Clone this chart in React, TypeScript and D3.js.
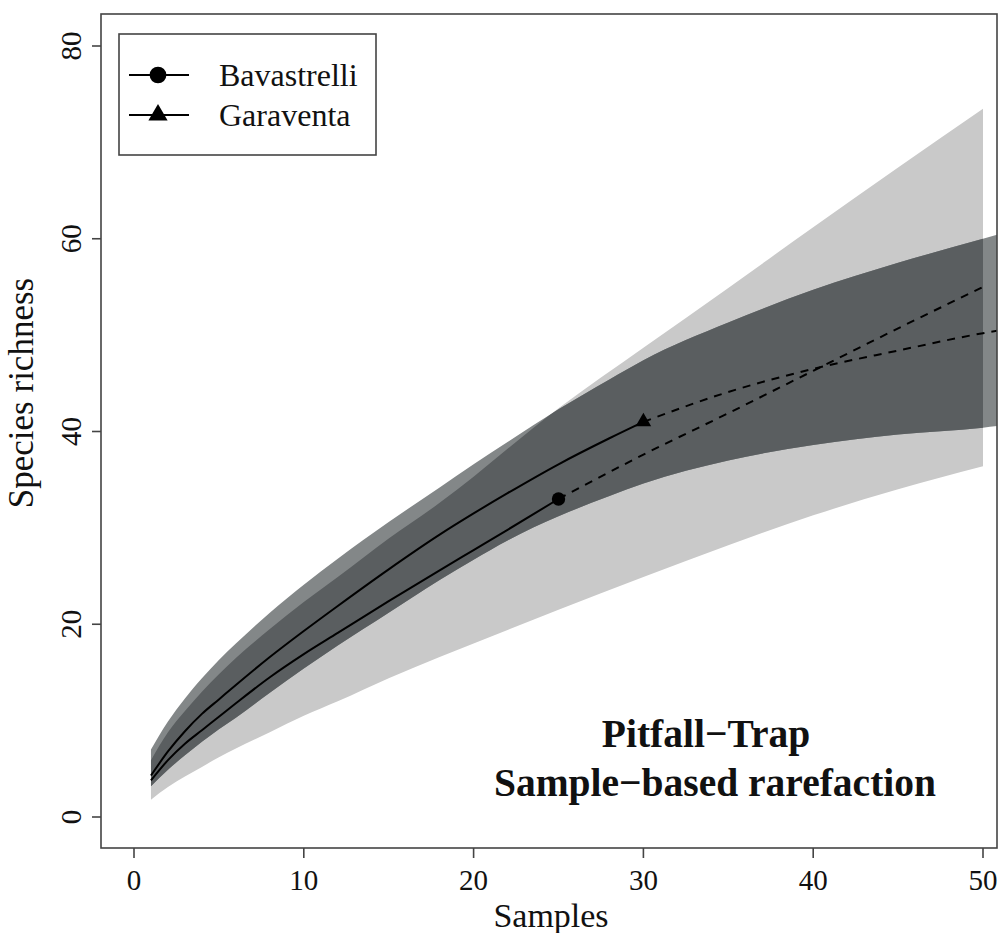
import React from 'react'
import * as d3 from 'd3'

// Bavastrelli: observed curve, extrapolation and confidence band
const bavSamples = [1, 2, 3, 4, 5, 6, 8, 10, 12, 15, 18, 20, 22, 25]
const bavRichness = [3.8, 5.9, 7.6, 9.0, 10.4, 11.8, 14.5, 16.9, 19.1, 22.4, 25.6, 27.7, 29.8, 33.0]
const bavExtSamples = [25, 30, 35, 40, 45, 50]
const bavExtRichness = [33.0, 37.6, 41.9, 46.3, 50.7, 55.0]
const bavBandSamples = [1, 2, 3, 4, 5, 6, 8, 10, 12, 15, 18, 20, 22, 25, 30, 35, 40, 45, 50]
const bavBandUpper = [5.9, 8.8, 11.0, 13.0, 14.8, 16.5, 19.5, 22.3, 24.9, 28.9, 32.6, 35.3, 38.2, 42.4, 48.7, 54.9, 61.2, 67.4, 73.5]
const bavBandLower = [1.8, 3.1, 4.2, 5.2, 6.2, 7.1, 8.8, 10.5, 12.0, 14.4, 16.6, 18.0, 19.4, 21.5, 24.9, 28.2, 31.3, 34.0, 36.4]

// Garaventa
const garSamples = [1, 2, 3, 4, 5, 6, 8, 10, 12, 15, 18, 20, 22, 25, 28, 30]
const garRichness = [4.3, 6.8, 8.9, 10.7, 12.2, 13.7, 16.6, 19.3, 21.9, 25.7, 29.3, 31.5, 33.6, 36.6, 39.3, 41.0]
const garExtSamples = [30, 35, 40, 45, 50, 51]
const garExtRichness = [41.0, 44.1, 46.5, 48.4, 50.2, 50.5]
const garBandSamples = [1, 2, 3, 4, 5, 6, 8, 10, 12, 15, 18, 20, 22, 25, 28, 30, 35, 40, 45, 50, 51]
const garBandUpper = [7.0, 9.9, 12.3, 14.4, 16.3, 18.0, 21.2, 24.1, 26.8, 30.6, 34.2, 36.6, 38.9, 42.3, 45.4, 47.4, 51.3, 54.7, 57.5, 60.0, 60.5]
const garBandLower = [3.2, 4.9, 6.4, 7.8, 9.1, 10.3, 12.9, 15.4, 17.8, 21.2, 24.6, 26.7, 28.7, 31.2, 33.3, 34.6, 37.0, 38.6, 39.7, 40.4, 40.6]

const xTicks = [0, 10, 20, 30, 40, 50]
const yTicks = [0, 20, 40, 60, 80]
const legendLabels = ['Bavastrelli', 'Garaventa']
const titleLines = ['Pitfall\u2212Trap', 'Sample\u2212based rarefaction']

const W = 999
const H = 933
const box = { left: 101, top: 14, right: 997, bottom: 848 }
const serif = '"Liberation Serif", "Times New Roman", serif'

const x = d3.scaleLinear().domain([0, 50]).range([134, 983])
const y = d3.scaleLinear().domain([0, 80]).range([817, 46])

const zip = (xs: number[], ys: number[]) => xs.map((v, i) => [v, ys[i]] as [number, number])
const band = (xs: number[], lo: number[], hi: number[]) => xs.map((v, i) => ({ s: v, lo: lo[i], hi: hi[i] }))

const line = d3.line<[number, number]>()
  .x(d => x(d[0]))
  .y(d => y(d[1]))
  .curve(d3.curveMonotoneX)

const area = d3.area<{ s: number, lo: number, hi: number }>()
  .x(d => x(d.s))
  .y0(d => y(d.lo))
  .y1(d => y(d.hi))
  .curve(d3.curveMonotoneX)

const bavArea = area(band(bavBandSamples, bavBandLower, bavBandUpper)) || ''
const garArea = area(band(garBandSamples, garBandLower, garBandUpper)) || ''

const circle = d3.symbol().type(d3.symbolCircle)
const triangle = d3.symbol().type(d3.symbolTriangle)

export default function App() {
  const bavEnd = bavSamples.length - 1
  const garEnd = garSamples.length - 1
  return (
    <svg width={W} height={H} style={{ position: 'absolute', left: 0, top: 0, background: '#fff' }}
      fontFamily={serif}>
      <defs>
        <clipPath id="plotClip">
          <rect x={box.left} y={box.top} width={box.right - box.left} height={box.bottom - box.top} />
        </clipPath>
        <clipPath id="bavClip">
          <path d={bavArea} />
        </clipPath>
      </defs>

      <g clipPath="url(#plotClip)">
        <path d={bavArea} fill="#c9c9c9" />
        <path d={garArea} fill="#838788" />
        <g clipPath="url(#bavClip)">
          <path d={garArea} fill="#5a5e60" />
        </g>

        <path d={line(zip(bavSamples, bavRichness)) || ''} fill="none" stroke="#000" strokeWidth={2} />
        <path d={line(zip(garSamples, garRichness)) || ''} fill="none" stroke="#000" strokeWidth={2} />
        <path d={line(zip(bavExtSamples, bavExtRichness)) || ''} fill="none" stroke="#000" strokeWidth={2}
          strokeDasharray="8,7" />
        <path d={line(zip(garExtSamples, garExtRichness)) || ''} fill="none" stroke="#000" strokeWidth={2}
          strokeDasharray="8,7" />

        <path d={circle.size(140)() || ''} fill="#000"
          transform={`translate(${x(bavSamples[bavEnd])},${y(bavRichness[bavEnd])})`} />
        <path d={triangle.size(105)() || ''} fill="#000"
          transform={`translate(${x(garSamples[garEnd])},${y(garRichness[garEnd])})`} />
      </g>

      {/* plot box */}
      <rect x={box.left} y={box.top} width={box.right - box.left} height={box.bottom - box.top}
        fill="none" stroke="#444" strokeWidth={1.6} />

      {/* x axis */}
      {xTicks.map(t => (
        <g key={'x' + t} transform={`translate(${x(t)},0)`}>
          <line y1={box.bottom} y2={box.bottom + 10} stroke="#444" strokeWidth={1.6} />
          <text y={890} textAnchor="middle" fontSize={29} fill="#111">{t}</text>
        </g>
      ))}
      <text x={551} y={927} textAnchor="middle" fontSize={34} fill="#111">Samples</text>

      {/* y axis */}
      {yTicks.map(t => (
        <g key={'y' + t} transform={`translate(0,${y(t)})`}>
          <line x1={box.left - 9} x2={box.left} stroke="#444" strokeWidth={1.6} />
          <text transform="translate(81,0) rotate(-90)" textAnchor="middle" fontSize={29} fill="#111">{t}</text>
        </g>
      ))}
      <text transform="translate(33,393) rotate(-90)" textAnchor="middle" fontSize={35} fill="#111">
        Species richness
      </text>

      {/* legend */}
      <rect x={119} y={34} width={257} height={121} fill="#fff" stroke="#444" strokeWidth={1.6} />
      {legendLabels.map((label, i) => {
        const ly = 75 + i * 40
        return (
          <g key={label}>
            <line x1={129} x2={189} y1={ly} y2={ly} stroke="#000" strokeWidth={2} />
            <path d={(i === 0 ? circle.size(220) : triangle.size(160))() || ''} fill="#000"
              transform={`translate(158,${ly})`} />
            <text x={219} y={ly + 11} fontSize={32} fill="#111">{label}</text>
          </g>
        )
      })}

      {/* annotation */}
      <text x={706} y={747} textAnchor="middle" fontSize={39.5} fontWeight="bold" fill="#111">{titleLines[0]}</text>
      <text x={715} y={796} textAnchor="middle" fontSize={39.5} fontWeight="bold" fill="#111">{titleLines[1]}</text>
    </svg>
  )
}
